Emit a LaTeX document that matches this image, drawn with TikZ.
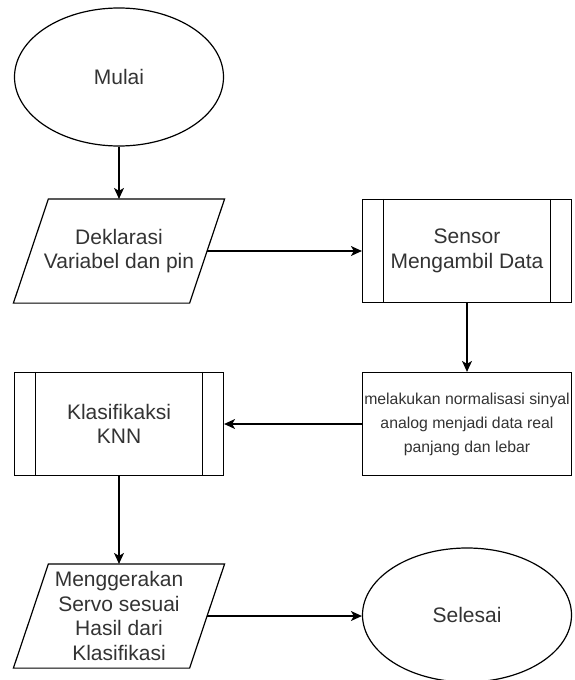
\documentclass[tikz,border=0pt]{standalone}
\usepackage{fontspec}
\setmainfont{Liberation Sans}
\usetikzlibrary{arrows.meta,positioning,shapes.geometric}
\tikzset{base/.style={align=center,inner sep=0pt,text=black!80,font=\fontsize{21}{24.5}\selectfont,line width=1.2pt},
  term/.style={base,draw,ellipse,minimum width=209pt,minimum height=138pt},
  io/.style={base,minimum width=175pt,minimum height=103pt},
  sub/.style={base,draw,minimum width=209pt,minimum height=103pt},
  proc/.style={base,draw,minimum width=209pt,minimum height=103pt,font=\fontsize{15.8}{24}\selectfont},
  arr/.style={-{Stealth[length=11pt,width=10pt,inset=3pt]},line width=1.2pt}}

\begin{document}
\begin{tikzpicture}[x=1pt,y=-1pt]
\useasboundingbox (0,0) rectangle (574,680);
\node[term] (mulai) at (119,77){Mulai};
\node[io] (dek) at (119,251){Deklarasi\\Variabel dan pin};
\node[sub] (sensor) at (467,251){Sensor\\Mengambil Data};
\node[proc] (norm) at (467,424){melakukan normalisasi sinyal\\analog menjadi data real\\panjang dan lebar};
\node[sub] (knn) at (119,424){Klasifikaksi\\KNN};
\node[io] (gerak) at (119,616){Menggerakan\\Servo sesuai\\Hasil dari\\Klasifikasi};
\node[term,minimum height=134pt] (selesai) at (467,615){Selesai};
% sisi miring input/output
\foreach \n in {dek,gerak}{\draw[line width=1.2pt] ([xshift=17.5pt]\n.north west) -- ([xshift=17.5pt]\n.north east) -- ([xshift=-17.5pt]\n.south east) -- ([xshift=-17.5pt]\n.south west) -- cycle;}
% garis dalam subproses
\foreach \n in {sensor,knn}{\draw[line width=1.2pt] ([xshift=21.6pt]\n.north west) -- ([xshift=21.6pt]\n.south west) ([xshift=-21.6pt]\n.north east) -- ([xshift=-21.6pt]\n.south east);}
\draw[arr] (mulai) -- (dek.north);
\draw[arr] (dek.east) -- (sensor);
\draw[arr] (sensor) -- (norm);
\draw[arr] (norm) -- (knn);
\draw[arr] (knn) -- (gerak.north);
\draw[arr] (gerak.east) -- (selesai.west |- gerak.east);
\end{tikzpicture}
\end{document}
